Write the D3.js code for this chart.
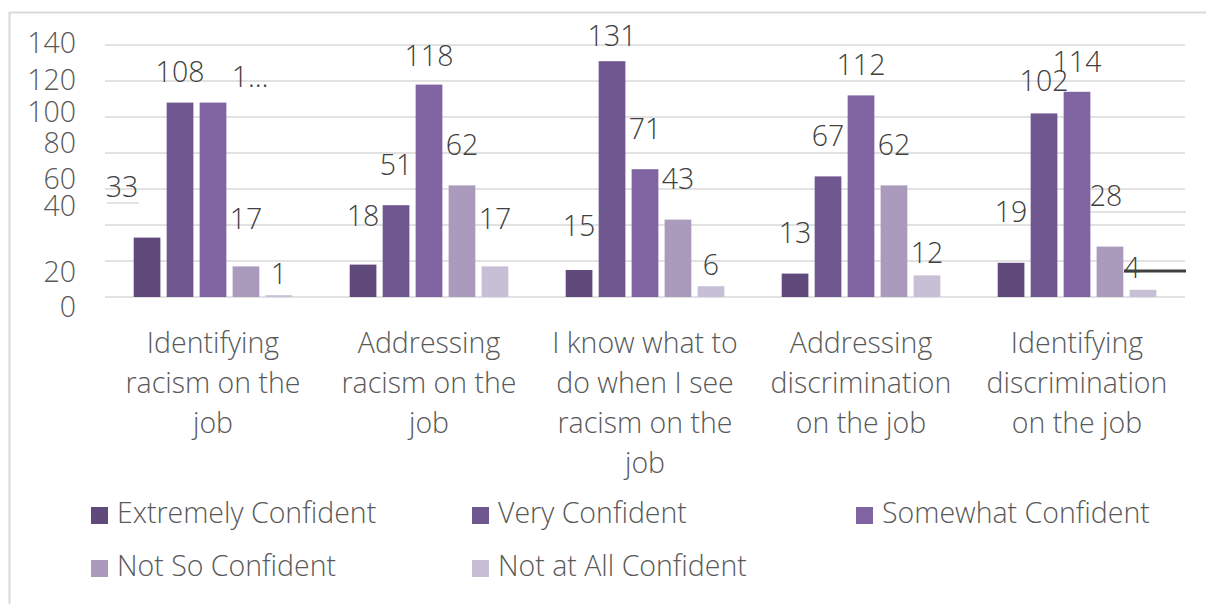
<!DOCTYPE html>
<html>
<head>
<meta charset="utf-8">
<script src="https://cdn.jsdelivr.net/npm/d3@7"></script>
<style>
  html, body { margin: 0; padding: 0; background: #fff; }
  svg { display: block; font-family: "Open Sans", "Noto Sans", sans-serif; font-weight: 300; }
</style>
</head>
<body>
<svg id="chart" width="1206" height="604"></svg>
<script>
// ---- data ----
const categories = [
  "Identifying racism on the job",
  "Addressing racism on the job",
  "I know what to do when I see racism on the job",
  "Addressing discrimination on the job",
  "Identifying discrimination on the job"
];
const seriesNames = ["Extremely Confident", "Very Confident", "Somewhat Confident", "Not So Confident", "Not at All Confident"];
const extremelyConfident = [33, 18, 15, 13, 19];
const veryConfident      = [108, 51, 131, 67, 102];
const somewhatConfident  = [108, 118, 71, 112, 114];
const notSoConfident     = [17, 62, 43, 62, 28];
const notAtAllConfident  = [1, 17, 6, 12, 4];
const yTicks = [0, 20, 40, 60, 80, 100, 120, 140];
const seriesValues = [extremelyConfident, veryConfident, somewhatConfident, notSoConfident, notAtAllConfident];
const colors = ["#604a7b", "#6f5790", "#8064a2", "#aa9bbd", "#c6bfd6"];

const svg = d3.select("#chart");
const FS = 28.5;

// outer frame
svg.append("rect").attr("x", 9.5).attr("y", 12.5).attr("width", 1210).attr("height", 600)
  .attr("fill", "none").attr("stroke", "#d9d9d9").attr("stroke-width", 2);

// scales
const y = d3.scaleLinear().domain([0, 140]).range([297, 45]);
const x0 = d3.scaleBand().domain(categories).range([105, 1185]).padding(0);
const x1 = d3.scaleBand().domain(seriesNames).range([0, x0.bandwidth()]).paddingInner(0.19).paddingOuter(0.87);

// label placement scales (the source chart places its texts on a distorted scale)
const tickLabelY = d3.scaleLinear().domain([0, 20, 40, 60, 80, 100, 120, 140])
  .range([307, 272, 206, 179, 143, 112, 80, 43]);
const dataLabelY = d3.scaleLinear().domain([0, 12, 13, 19, 33, 43, 71, 131])
  .range([277, 254, 234, 213, 188, 180, 130, 37]);

// gridlines
svg.append("g").selectAll("line").data(yTicks).join("line")
  .attr("x1", 105).attr("x2", 1185)
  .attr("y1", d => y(d)).attr("y2", d => y(d))
  .attr("stroke", "#d9d9d9").attr("stroke-width", 1.5);

// stray line fragments in the source
svg.append("line").attr("x1", 1090).attr("x2", 1186).attr("y1", 212).attr("y2", 212)
  .attr("stroke", "#d9d9d9").attr("stroke-width", 1.5);
svg.append("line").attr("x1", 107).attr("x2", 139).attr("y1", 203).attr("y2", 203)
  .attr("stroke", "#d9d9d9").attr("stroke-width", 1.5);

// y tick labels
svg.append("g").selectAll("text").data(yTicks).join("text")
  .attr("x", 76).attr("y", d => tickLabelY(d) + 10)
  .attr("text-anchor", "end").attr("font-size", FS).attr("fill", "#595959")
  .text(d => d);

// bars
const flat = [];
categories.forEach((c, ci) => seriesNames.forEach((s, si) => flat.push({ c, s, si, ci, v: seriesValues[si][ci] })));

svg.append("g").selectAll("rect").data(flat).join("rect")
  .attr("x", d => x0(d.c) + x1(d.s))
  .attr("width", x1.bandwidth())
  .attr("y", d => y(d.v))
  .attr("height", d => y(0) - y(d.v))
  .attr("fill", d => colors[d.si]);

// data labels
const labelText = d => (d.ci === 0 && d.si === 2) ? "1\u2026" : String(d.v);
const labelShift = d => {
  if (d.ci === 0 && d.si === 0) return [-25, 0];
  if (d.ci === 0 && d.si === 2) return [37, 5];
  if (d.ci === 4 && d.si === 3) return [-4, 0];
  if (d.ci === 4 && d.si === 4) return [-11, 0];
  return [0, 0];
};
svg.append("g").selectAll("text").data(flat).join("text")
  .attr("x", d => x0(d.c) + x1(d.s) + x1.bandwidth() / 2 + labelShift(d)[0])
  .attr("y", d => dataLabelY(d.v) + 9 + labelShift(d)[1])
  .attr("text-anchor", "middle").attr("font-size", FS).attr("fill", "#404040")
  .text(labelText);

// dark stray line near "4"
svg.append("line").attr("x1", 1124).attr("x2", 1186).attr("y1", 271).attr("y2", 271)
  .attr("stroke", "#404040").attr("stroke-width", 3);

// category labels with wrapping
const catG = svg.append("g");
categories.forEach(c => {
  const cx = x0(c) + x0.bandwidth() / 2;
  const t = catG.append("text")
    .attr("x", cx).attr("y", 353)
    .attr("text-anchor", "middle").attr("font-size", FS).attr("fill", "#595959");
  const words = c.split(" ");
  let line = [];
  let tspan = t.append("tspan").attr("x", cx).attr("dy", 0);
  words.forEach(w => {
    line.push(w);
    tspan.text(line.join(" "));
    if (tspan.node().getComputedTextLength() > 202 && line.length > 1) {
      line.pop();
      tspan.text(line.join(" "));
      line = [w];
      tspan = t.append("tspan").attr("x", cx).attr("dy", 40).text(w);
    }
  });
});

// legend
const legendPos = [[91, 523], [472, 523], [856, 523], [91, 576], [472, 576]];
const lg = svg.append("g").selectAll("g").data(seriesNames).join("g")
  .attr("transform", (d, i) => `translate(${legendPos[i][0]},${legendPos[i][1]})`);
lg.append("rect").attr("x", 0).attr("y", -16).attr("width", 17).attr("height", 17)
  .attr("fill", (d, i) => colors[i]);
lg.append("text").attr("x", 26).attr("y", 0).attr("font-size", FS).attr("fill", "#595959")
  .text(d => d);
</script>
</body>
</html>
